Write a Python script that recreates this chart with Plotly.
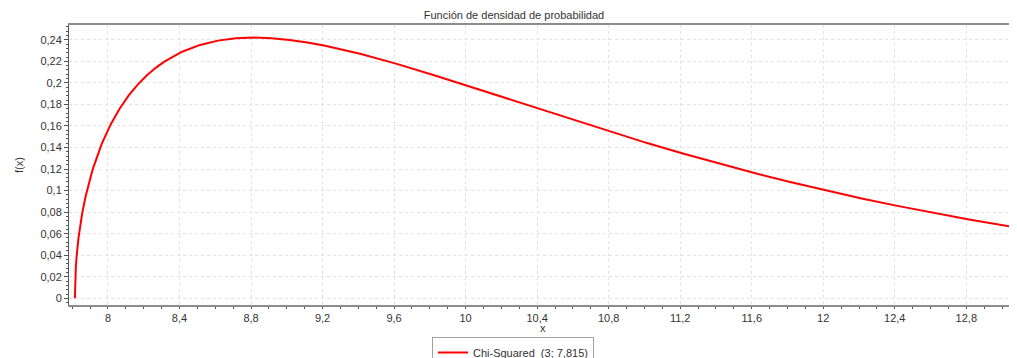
import plotly.graph_objects as go

# Values (Chi-Squared, k=3, location 7,815)
x_values = [7.815, 7.816, 7.817, 7.818, 7.820, 7.825, 7.835, 7.855, 7.875, 7.915,
            7.965, 8.015, 8.065, 8.115, 8.165, 8.215, 8.265, 8.315, 8.415, 8.515,
            8.615, 8.715, 8.815, 8.915, 9.015, 9.115, 9.215, 9.415, 9.615, 9.815,
            10.015, 10.215, 10.415, 10.615, 10.815, 11.015, 11.215, 11.415, 11.615,
            11.815, 12.015, 12.215, 12.415, 12.615, 12.815, 13.065]
y_values = [0.0, 0.0126, 0.0178, 0.0218, 0.0281, 0.0397, 0.0559, 0.0782, 0.0948, 0.1200,
            0.1433, 0.1614, 0.1760, 0.1881, 0.1981, 0.2066, 0.2137, 0.2197, 0.2289, 0.2352,
            0.2392, 0.2413, 0.2420, 0.2414, 0.2398, 0.2375, 0.2344, 0.2267, 0.2176, 0.2076,
            0.1970, 0.1861, 0.1753, 0.1646, 0.1542, 0.1441, 0.1344, 0.1251, 0.1163,
            0.1080, 0.1001, 0.0927, 0.0858, 0.0793, 0.0732, 0.0662]
series_name = "Chi-Squared  (3; 7,815)"
title_text = "Función de densidad de probabilidad"
x_label = "x"
y_label = "f(x)"

font_family = "Liberation Sans, Arial, sans-serif"
text_color = "#333333"
grid_color = "#e3e3e3"

# the page body adds an 8px offset; the figure is sized to fill the rest
W, H = 1009, 350
M_T, M_B = 17, 53
plot_h = H - M_T - M_B

fig = go.Figure()
fig.add_trace(go.Scatter(
    x=x_values, y=y_values, mode="lines", name=series_name,
    line=dict(color="#ff0000", width=2),
))

fig.update_layout(
    width=W, height=H,
    paper_bgcolor="white", plot_bgcolor="white",
    margin=dict(l=61, r=1, t=M_T, b=M_B, autoexpand=False),
    separators=", ",
    font=dict(family=font_family, size=11, color=text_color),
    title=dict(text=title_text, x=506 / W, xref="container", xanchor="center",
               y=1 - 7 / H, yref="container", yanchor="middle",
               font=dict(size=11, color=text_color)),
    showlegend=True,
    legend=dict(orientation="h", xref="container", x=505 / W, xanchor="center",
                yref="container", y=1 - 329 / H, yanchor="top",
                bordercolor="#a0a0a0", borderwidth=1, bgcolor="white",
                font=dict(size=11, color=text_color),
                itemwidth=30, tracegroupgap=0),
    annotations=[dict(text=x_label, xref="paper", x=0.5, xanchor="center",
                      yref="paper", y=-23 / plot_h, yanchor="middle",
                      showarrow=False, font=dict(size=11, color=text_color))],
)

fig.update_xaxes(
    range=[7.782, 13.078], dtick=0.4, tick0=8,
    showline=True, linecolor="#8c8c8c", linewidth=2, mirror=True,
    ticks="outside", ticklen=2, tickcolor="#555555",
    minor=dict(dtick=0.1, ticks="outside", ticklen=2, tickcolor="#555555", showgrid=False),
    showgrid=True, gridcolor=grid_color, griddash="dot", gridwidth=1,
    zeroline=False,
    tickfont=dict(size=11, color=text_color),
)
fig.update_yaxes(
    range=[-0.0062, 0.2537], dtick=0.02, tick0=0,
    showline=True, linecolor="#555555", linewidth=1,
    ticks="outside", ticklen=4, tickcolor="#555555",
    minor=dict(dtick=0.004, ticks="outside", ticklen=2, tickcolor="#555555", showgrid=False),
    showgrid=True, gridcolor=grid_color, griddash="dot", gridwidth=1,
    zeroline=False,
    title=dict(text=y_label, standoff=14, font=dict(size=11, color=text_color)),
    tickfont=dict(size=11, color=text_color),
)

fig.write_html("out.html")
